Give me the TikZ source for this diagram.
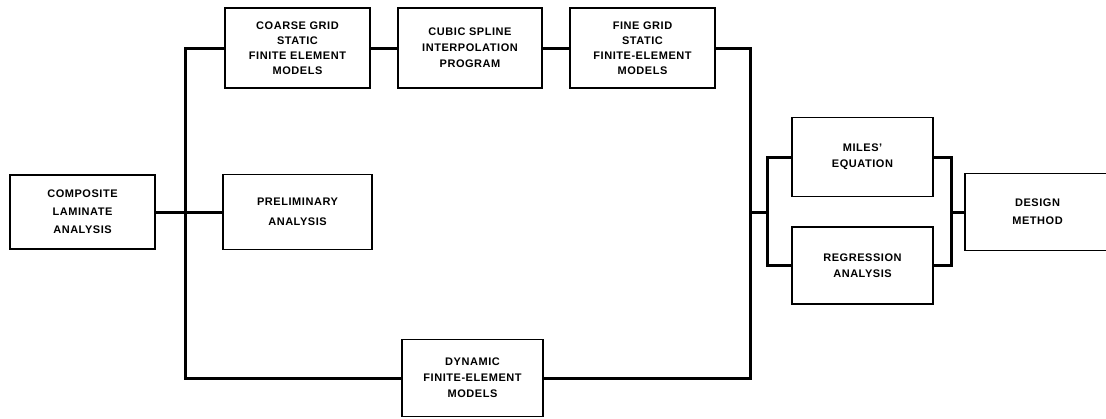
\documentclass[tikz,border=0pt]{standalone}
\usepackage{fontspec}
\setmainfont{Liberation Sans}[LetterSpace=5]

\begin{document}
\begin{tikzpicture}[x=1pt, y=-1pt,
    block/.style={draw, line width=1.7pt, align=center, inner sep=0pt,
      minimum width=145pt, minimum height=78pt,
      font=\bfseries\fontsize{11}{16}\selectfont},
    link/.style={line width=3pt}]

  \useasboundingbox (0,0) rectangle (1106,418);

  % left column
  \node[block, minimum height=74pt,
        font=\bfseries\fontsize{11}{18}\selectfont] (comp) at (82.5,212) {COMPOSITE\\LAMINATE\\ANALYSIS};

  % middle column
  \node[block, minimum height=80pt,
        font=\bfseries\fontsize{11}{15}\selectfont] (coarse) at (297.5,48) {COARSE GRID\\STATIC\\FINITE ELEMENT\\MODELS};
  \node[block, minimum width=144pt, minimum height=80pt] (spline) at (470,48) {CUBIC SPLINE\\INTERPOLATION\\PROGRAM};
  \node[block, minimum height=80pt,
        font=\bfseries\fontsize{11}{15}\selectfont] (fine) at (642.5,48) {FINE GRID\\STATIC\\FINITE-ELEMENT\\MODELS};
  \node[block, minimum width=149pt, minimum height=75pt,
        font=\bfseries\fontsize{11}{20}\selectfont] (prelim) at (297.5,212) {PRELIMINARY\\ANALYSIS};
  \node[block, minimum width=141pt, minimum height=77pt] (dyn) at (472.5,378) {DYNAMIC\\FINITE-ELEMENT\\MODELS};

  % right column
  \node[block, minimum width=141pt, minimum height=79pt] (miles) at (862.5,157) {MILES'\\EQUATION};
  \node[block, minimum width=141pt, minimum height=77pt] (regr) at (862.5,265.5) {REGRESSION\\ANALYSIS};
  \node[block, minimum height=77pt,
        font=\bfseries\fontsize{11}{18}\selectfont] (design) at (1037.5,212) {DESIGN\\METHOD};

  \coordinate (lbus) at (185,212);
  \coordinate (rbus) at (750,212);
  \coordinate (inL) at (767,212);
  \coordinate (inR) at (951,212);

  % connectors
  \draw[link] (coarse.west) -| (lbus) |- (dyn.west);
  \draw[link] (comp.east) -- (prelim.west);
  \draw[link] (coarse.east) -- (spline.west);
  \draw[link] (spline.east) -- (fine.west);
  \draw[link] (fine.east) -| (rbus) |- (dyn.east);
  \draw[link] (rbus) -- (inL);
  \draw[link] (miles.west) -| (inL) |- (regr.west);
  \draw[link] (miles.east) -| (inR) |- (regr.east);
  \draw[link] (inR) -- (design.west);

\end{tikzpicture}
\end{document}
